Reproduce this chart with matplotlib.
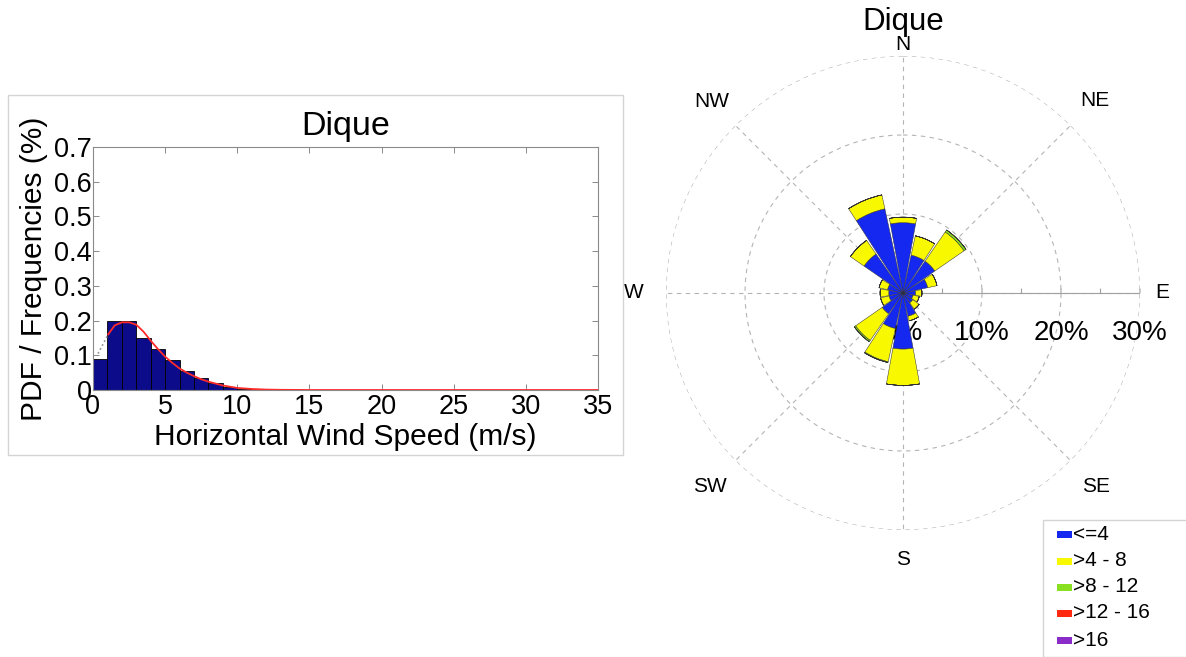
import numpy as np
import matplotlib
matplotlib.use("Agg")
import matplotlib.pyplot as plt
from matplotlib.patches import Rectangle

plt.rcParams['font.family'] = ['Liberation Sans', 'DejaVu Sans']

W, H = 1186, 657

# histogram of horizontal wind speed (bin edges in m/s, frequency)
bin_edges = [0, 1, 2, 3, 4, 5, 6, 7, 8, 9, 10, 11, 12]
bin_freq = [0.09, 0.2, 0.2, 0.15, 0.117, 0.085, 0.054, 0.035, 0.021, 0.01, 0.004, 0.001]

# fitted pdf
pdf_x = [1.05, 1.5, 2.0, 2.5, 3.0, 3.5, 4.0, 4.5, 5.0, 5.5, 6.0, 6.5, 7.0, 7.5, 8.0,
         9.0, 10.0, 11.0, 12.0, 13.0, 15.0, 20.0, 25.0, 30.0, 35.0]
pdf_y = [0.16, 0.186, 0.195, 0.195, 0.188, 0.168, 0.142, 0.118, 0.096, 0.078, 0.062,
         0.05, 0.04, 0.031, 0.024, 0.013, 0.006, 0.003, 0.0012, 0.0005, 0.0, 0.0, 0.0, 0.0, 0.0]
lead_x = [0.35, 1.05]
lead_y = [0.105, 0.16]

# wind rose: 16 sectors clockwise from N, percent per speed class
directions = ['N', 'NNE', 'NE', 'ENE', 'E', 'ESE', 'SE', 'SSE',
              'S', 'SSW', 'SW', 'WSW', 'W', 'WNW', 'NW', 'NNW']
spd_le4 = [8.9, 4.9, 4.9, 3.2, 1.6, 1.3, 1.5, 3.0, 7.1, 4.6, 3.2, 1.8, 1.8, 2.0, 6.0, 10.9]
spd_4_8 = [0.7, 2.5, 4.5, 1.2, 0.8, 0.8, 1.0, 0.6, 4.6, 4.3, 4.1, 1.1, 1.1, 1.1, 2.1, 1.8]
spd_8_12 = [0.0, 0.0, 0.3, 0.0, 0.0, 0.0, 0.0, 0.0, 0.0, 0.1, 0.2, 0.0, 0.0, 0.0, 0.0, 0.0]
spd_12_16 = [0.0] * 16
spd_gt16 = [0.0] * 16
class_labels = ['<=4', '>4 - 8', '>8 - 12', '>12 - 16', '>16']
class_colors = ['#1428f0', '#f8f800', '#88e020', '#ff2a10', '#8a2cc8']

ring_values = [10, 20, 30]
compass = ['N', 'NE', 'E', 'SE', 'S', 'SW', 'W', 'NW']

fig = plt.figure(figsize=(W / 100, H / 100), dpi=100)


def px(x0, y0, x1, y1):
    return [x0 / W, 1 - y1 / H, (x1 - x0) / W, (y1 - y0) / H]


# ---- left panel: histogram + pdf ----
fig.patches.append(Rectangle((8 / W, 1 - 455 / H), 615 / W, 360 / H,
                             transform=fig.transFigure, fill=False,
                             edgecolor='#d4d4d4', linewidth=1.0))

ax = fig.add_axes(px(93, 147, 598, 390))
edges = np.array(bin_edges, dtype=float)
ax.bar(edges[:-1], bin_freq, width=np.diff(edges), align='edge',
       color='#0c0c8a', edgecolor='black', linewidth=0.6, zorder=2)
ax.plot(lead_x, lead_y, linestyle=':', color='#909090', linewidth=1.2, zorder=3)
ax.plot(pdf_x, pdf_y, color='#ff2a2a', linewidth=1.3, zorder=4)
ax.set_xlim(0, 35)
ax.set_ylim(0, 0.7)
ax.set_xticks(np.arange(0, 36, 5))
ax.set_yticks(np.arange(0, 0.71, 0.1))
ax.set_yticklabels(['0', '0.1', '0.2', '0.3', '0.4', '0.5', '0.6', '0.7'])
ax.tick_params(direction='in', length=4, width=0.6, color='#777777',
               top=True, right=True, labelsize=19.5, pad=1)
ax.tick_params(axis='x', pad=3)
for s in ax.spines.values():
    s.set_color('#8a8a8a')
    s.set_linewidth(0.8)
ax.set_xlabel('Horizontal Wind Speed (m/s)', fontsize=21.5, labelpad=2)
ax.set_ylabel('PDF / Frequencies (%)', fontsize=21.5, labelpad=4)
ax.set_title('Dique', fontsize=24.5, pad=9)

# ---- right panel: wind rose ----
cx, cy, R = 903, 293, 237
pax = fig.add_axes(px(cx - R, cy - R, cx + R, cy + R), projection='polar')
pax.set_theta_zero_location('N')
pax.set_theta_direction(-1)
pax.set_ylim(0, 30)
pax.axis('off')

theta = np.deg2rad(np.arange(16) * 22.5)
width = np.deg2rad(22.5) * 0.92

# ring / spoke grid
tt = np.linspace(0, 2 * np.pi, 400)
for rv in ring_values:
    pax.plot(tt, np.full_like(tt, rv), linestyle=(0, (4, 4)), color='#b4b4b4',
             linewidth=0.8, zorder=1)
for k in range(8):
    a = np.deg2rad(k * 45)
    pax.plot([a, a], [0, 30], linestyle=(0, (4, 4)), color='#b4b4b4',
             linewidth=0.8, zorder=1)

# solid scale along the E axis with ticks every 5 %
east = np.pi / 2
pax.plot([east, east], [0, 30], color='#a0a0a0', linewidth=0.8, zorder=1)
for rv in np.arange(5, 31, 5):
    pax.annotate('', xy=(east, rv), xytext=(0, 4), textcoords='offset pixels',
                 arrowprops=dict(arrowstyle='-', color='#a0a0a0', lw=0.8,
                                 shrinkA=0, shrinkB=0))

# radial labels below the E axis
for rv in [0] + ring_values:
    pax.annotate('%d%%' % rv, xy=(east, rv), xytext=(0, -40),
                 textcoords='offset pixels', ha='center', va='center',
                 fontsize=20, zorder=1, annotation_clip=False)

# stacked sectors
bottom = np.zeros(16)
for vals, col in zip([spd_le4, spd_4_8, spd_8_12, spd_12_16, spd_gt16], class_colors):
    vals = np.array(vals)
    pax.bar(theta, vals, width=width, bottom=bottom, color=col,
            edgecolor='#303030', linewidth=0.35, zorder=3)
    bottom = bottom + vals

# compass labels
label_r = {'N': 31.4, 'E': 32.8, 'S': 33.7, 'W': 34.1,
           'NE': 34.4, 'SE': 34.6, 'SW': 34.6, 'NW': 34.3}
for k, name in enumerate(compass):
    pax.text(np.deg2rad(k * 45), label_r[name], name, ha='center', va='center',
             fontsize=15, clip_on=False)

fig.text(cx / W, 1 - 22 / H, 'Dique', ha='center', va='center', fontsize=22.5)

# legend box
fig.patches.append(Rectangle((1043 / W, 1 - 657 / H), 150 / W, 137 / H,
                             transform=fig.transFigure, fill=False,
                             edgecolor='#d4d4d4', linewidth=1.0))
row_y = [534, 561, 587, 613, 640]
for yc, lab, col in zip(row_y, class_labels, class_colors):
    fig.patches.append(Rectangle((1057 / W, 1 - (yc + 3.5) / H), 15 / W, 7 / H,
                                 transform=fig.transFigure, facecolor=col,
                                 edgecolor='none'))
    fig.text(1073 / W, 1 - (yc + 5.5) / H, lab, ha='left', va='baseline',
             fontsize=15)

fig.savefig('out.png', dpi=100)
